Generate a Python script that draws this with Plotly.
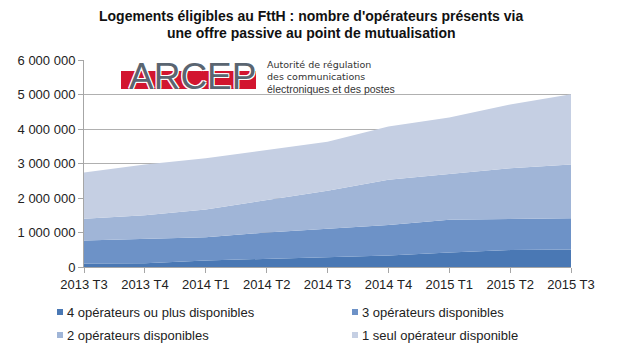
import plotly.graph_objects as go

# ---- data ----
quarters = ["2013 T3", "2013 T4", "2014 T1", "2014 T2", "2014 T3",
            "2014 T4", "2015 T1", "2015 T2", "2015 T3"]

names = ["4 opérateurs ou plus disponibles", "3 opérateurs disponibles",
         "2 opérateurs disponibles", "1 seul opérateur disponible"]

op4_plus = [100000, 110000, 190000, 230000, 270000, 330000, 420000, 490000, 510000]
op3 = [670000, 710000, 670000, 770000, 850000, 890000, 950000, 900000, 900000]
op2 = [630000, 680000, 810000, 950000, 1090000, 1310000, 1330000, 1470000, 1560000]
op1 = [1340000, 1470000, 1480000, 1440000, 1420000, 1540000, 1630000, 1850000, 2040000]

series = [op4_plus, op3, op2, op1]
colors = ["#4a78b4", "#6d92c7", "#a0b5d7", "#c5cfe3"]

y_ticks = [0, 1000000, 2000000, 3000000, 4000000, 5000000, 6000000]

title_lines = ["Logements éligibles au FttH : nombre d'opérateurs présents via",
               "une offre passive au point de mutualisation"]
logo_word = "ARCEP"
logo_lines = ["Autorité de régulation", "des communications",
              "électroniques et des postes"]

# ---- layout geometry (pixels) ----
W, H = 620, 350
L, R, T, B = 84, 571, 60, 267


def px(x):
    return (x - L) / (R - L)


def py(y):
    return (B - y) / (B - T)


FONT = "Arial, Liberation Sans, sans-serif"

fig = go.Figure()
for name, vals, col in zip(names, series, colors):
    fig.add_trace(go.Scatter(
        x=quarters, y=vals, name=name, mode="lines",
        stackgroup="one", line=dict(width=0, color=col),
        fillcolor=col, showlegend=False, hoverinfo="x+y+name"))

shapes = []
annotations = []

# title (two lines)
for k, line in enumerate(title_lines):
    annotations.append(dict(xref="paper", yref="paper", x=px(311), y=py(16 + k * 16.5),
                            xanchor="center", yanchor="middle", showarrow=False,
                            text=line,
                            font=dict(family=FONT, size=14, color="#111", weight="bold")))

# legend (custom, two columns)
for i, (name, col) in enumerate(zip(names, colors)):
    c, r = i % 2, i // 2
    mx = 57 + c * 295
    my = 312 + r * 23
    shapes.append(dict(type="rect", xref="paper", yref="paper",
                       x0=px(mx), x1=px(mx + 6), y0=py(my + 3), y1=py(my - 3),
                       fillcolor=col, line=dict(width=0)))
    annotations.append(dict(xref="paper", yref="paper", x=px(mx + 8), y=py(my),
                            xanchor="left", yanchor="middle", showarrow=False,
                            text=name, font=dict(family=FONT, size=13, color="#222")))

# logo
shapes.append(dict(type="rect", xref="paper", yref="paper",
                   x0=px(121), x1=px(256), y0=py(89), y1=py(71),
                   fillcolor="#d2152f", line=dict(width=0), layer="above"))
annotations.append(dict(xref="paper", yref="paper", x=px(192), y=py(76),
                        xanchor="center", yanchor="middle", showarrow=False,
                        text=logo_word,
                        font=dict(family=FONT, size=37, color="#5a6571",
                                  shadow="1px 1px 0 #fff, -1px -1px 0 #fff, 1px -1px 0 #fff, -1px 1px 0 #fff")))
logo_text = "<br>".join(logo_lines[:2]) + \
    '<br><span style="font-family:Liberation Sans;font-size:10.5px">' + logo_lines[2] + "</span>"
annotations.append(dict(xref="paper", yref="paper", x=px(265), y=py(76.5),
                        xanchor="left", yanchor="middle", align="left", showarrow=False,
                        text=logo_text,
                        font=dict(family="DejaVu Sans", size=9.5, color="#333")))

fig.update_layout(
    width=W, height=H,
    margin=dict(l=L, r=W - R, t=T, b=H - B),
    paper_bgcolor="white", plot_bgcolor="white",
    separators=", ",
    xaxis=dict(type="category", range=[0, len(quarters) - 1],
               showgrid=False, showline=True, linecolor="#a6a6a6",
               ticks="outside", ticklen=5, tickcolor="#a6a6a6",
               tickfont=dict(family=FONT, size=13, color="#222"),
               fixedrange=True),
    yaxis=dict(range=[0, 6000000], tickvals=y_ticks, tickformat=",d",
               showgrid=True, gridcolor="#b0b0b0", gridwidth=1,
               showline=True, linecolor="#a6a6a6",
               ticks="outside", ticklen=5, tickcolor="#a6a6a6",
               tickfont=dict(family=FONT, size=13, color="#222"),
               zeroline=False, fixedrange=True),
    shapes=shapes, annotations=annotations,
    showlegend=False,
)

fig.write_html("out.html")
